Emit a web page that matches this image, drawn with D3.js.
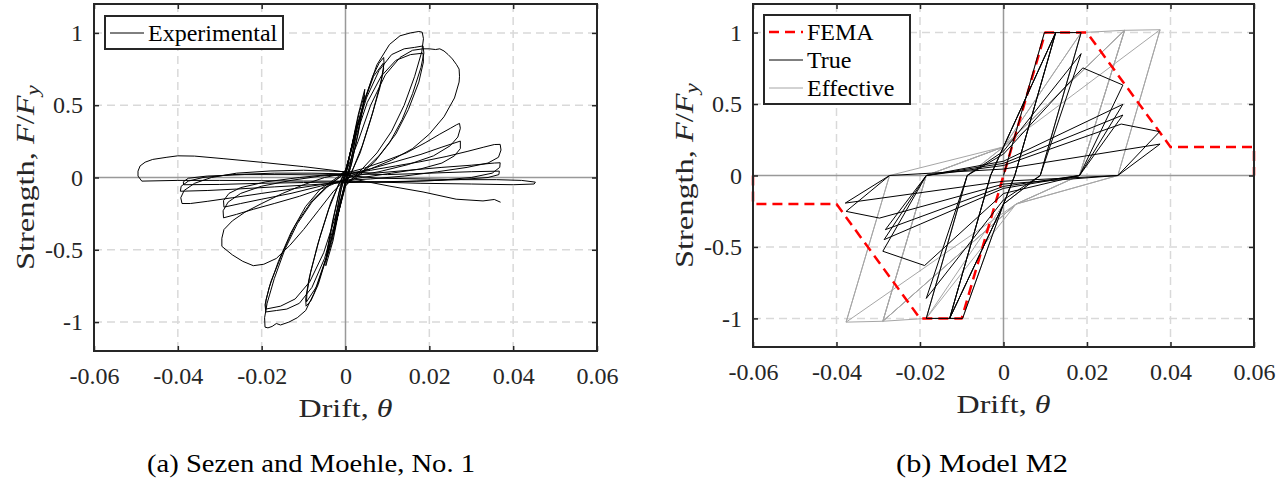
<!DOCTYPE html>
<html>
<head>
<meta charset="utf-8">
<title>Hysteresis: experiment vs model</title>
<script src="https://cdn.jsdelivr.net/npm/d3@7"></script>
<style>
  body { margin: 0; background: #fff; }
  .grid line { stroke: #d9d9d9; stroke-width: 1.5; stroke-dasharray: 8,5; }
  .zero line { stroke: #999; stroke-width: 1.5; }
  .axis line { stroke: #262626; stroke-width: 1.5; }
</style>
</head>
<body>
<svg width="1288" height="480"></svg>
<script>
// ---- data ----
var xTicks = [-0.06, -0.04, -0.02, 0, 0.02, 0.04, 0.06];
var xTickLabels = ["-0.06", "-0.04", "-0.02", "0", "0.02", "0.04", "0.06"];
var yTicks = [-1, -0.5, 0, 0.5, 1];
var yTickLabels = ["-1", "-0.5", "0", "0.5", "1"];

// drift, F/Fy (Sezen and Moehle, No. 1)
var experimental = [
  [0,0],
  [0.0012,0.18],[0.0025,0.34],[0.0022,0.25],[0.001,0.08],[0,-0.02],
  [-0.0012,-0.18],[-0.0026,-0.36],[-0.0022,-0.26],[-0.001,-0.08],[0,0.02],
  [0.0014,0.2],[0.0028,0.38],[0.0024,0.27],[0.001,0.07],[-0.0001,-0.03],
  [-0.0014,-0.2],[-0.0029,-0.39],[-0.0024,-0.28],[-0.001,-0.07],[0.0001,0.03],
  [0.0015,0.22],[0.003,0.43],[0.0046,0.61],[0.0044,0.54],[0.0032,0.34],[0.0015,0.1],[0,-0.05],
  [-0.0015,-0.22],[-0.003,-0.44],[-0.0047,-0.61],[-0.0045,-0.54],[-0.0032,-0.33],[-0.0015,-0.1],[0,0.04],
  [0.0016,0.23],[0.0033,0.45],[0.0045,0.57],[0.0042,0.49],[0.003,0.3],[0.0012,0.07],[-0.0002,-0.06],
  [-0.0016,-0.23],[-0.0033,-0.45],[-0.0046,-0.57],[-0.0043,-0.49],[-0.003,-0.29],[-0.0012,-0.06],[0.0002,0.05],
  [0.0018,0.25],[0.0042,0.5],[0.0065,0.7],[0.008,0.79],[0.0091,0.83],[0.0092,0.79],[0.0085,0.67],[0.0065,0.45],[0.004,0.22],[0.0018,0.06],[0,-0.04],
  [-0.0018,-0.26],[-0.0042,-0.52],[-0.0065,-0.74],[-0.0082,-0.85],[-0.0094,-0.89],[-0.0095,-0.84],[-0.0087,-0.7],[-0.0066,-0.46],[-0.004,-0.22],[-0.0018,-0.06],[0,0.04],
  [0.0019,0.26],[0.0044,0.52],[0.0067,0.7],[0.009,0.79],[0.0091,0.75],[0.0082,0.62],[0.006,0.4],[0.0035,0.17],[0.0015,0.04],[-0.0001,-0.05],
  [-0.002,-0.28],[-0.0045,-0.55],[-0.0068,-0.75],[-0.0093,-0.86],[-0.0092,-0.8],[-0.0083,-0.65],[-0.006,-0.4],[-0.0035,-0.17],[-0.0015,-0.04],[0.0001,0.05],
  [0.002,0.27],[0.0048,0.56],[0.0075,0.78],[0.0105,0.92],[0.013,0.98],[0.0155,1.0],[0.0175,1.01],[0.0183,1.005],[0.0186,0.96],[0.0182,0.87],[0.0165,0.7],[0.014,0.5],[0.011,0.32],[0.0075,0.17],[0.004,0.06],[0.0015,-0.01],[0,-0.06],
  [-0.002,-0.28],[-0.0048,-0.57],[-0.0075,-0.8],[-0.0095,-0.92],[-0.0115,-0.97],[-0.0135,-1.0],[-0.0155,-1.02],[-0.0165,-1.01],[-0.0175,-1.03],[-0.0185,-1.04],[-0.0192,-1.035],[-0.0193,-0.97],[-0.0187,-0.87],[-0.017,-0.7],[-0.0145,-0.5],[-0.0115,-0.32],[-0.008,-0.17],[-0.0045,-0.07],[-0.0015,0],[0,0.05],
  [0.0022,0.28],[0.005,0.55],[0.008,0.74],[0.011,0.85],[0.014,0.89],[0.0165,0.9],[0.0185,0.91],[0.0187,0.86],[0.018,0.76],[0.016,0.58],[0.0135,0.4],[0.0105,0.24],[0.007,0.11],[0.0035,0.02],[0,-0.05],
  [-0.0022,-0.28],[-0.005,-0.56],[-0.008,-0.76],[-0.011,-0.87],[-0.014,-0.91],[-0.0165,-0.92],[-0.019,-0.93],[-0.0192,-0.88],[-0.0182,-0.76],[-0.016,-0.58],[-0.013,-0.38],[-0.0095,-0.2],[-0.006,-0.08],[-0.002,0],[0,0.05],
  [0.0024,0.28],[0.0052,0.52],[0.0085,0.7],[0.012,0.81],[0.0155,0.85],[0.0185,0.86],[0.0186,0.8],[0.0175,0.66],[0.015,0.47],[0.012,0.3],[0.008,0.15],[0.004,0.04],[0,-0.04],
  [-0.0024,-0.27],[-0.0052,-0.52],[-0.0085,-0.72],[-0.012,-0.84],[-0.0155,-0.89],[-0.019,-0.91],[-0.019,-0.85],[-0.0178,-0.72],[-0.015,-0.52],[-0.012,-0.33],[-0.008,-0.16],[-0.004,-0.05],[0,0.03],
  [0.003,0.25],[0.006,0.5],[0.0095,0.71],[0.013,0.83],[0.016,0.88],[0.0185,0.89],[0.02,0.89],[0.0215,0.885],[0.0225,0.89],[0.0235,0.875],[0.0245,0.85],[0.0255,0.82],[0.0265,0.78],[0.0271,0.75],[0.0272,0.7],[0.0271,0.66],[0.026,0.55],[0.0235,0.42],[0.02,0.3],[0.016,0.2],[0.011,0.12],[0.006,0.06],[0.002,0.02],[0,-0.01],
  [-0.003,-0.1],[-0.0065,-0.23],[-0.01,-0.36],[-0.0133,-0.47],[-0.0165,-0.56],[-0.0195,-0.6],[-0.022,-0.61],[-0.0245,-0.58],[-0.027,-0.535],[-0.0295,-0.476],[-0.0295,-0.42],[-0.029,-0.36],[-0.027,-0.3],[-0.024,-0.24],[-0.02,-0.18],[-0.015,-0.11],[-0.01,-0.05],[-0.005,0],[0,0.03],
  [0.004,0.06],[0.009,0.11],[0.0145,0.17],[0.019,0.24],[0.0225,0.3],[0.025,0.34],[0.0265,0.365],[0.0272,0.374],[0.0274,0.34],[0.0268,0.28],[0.025,0.22],[0.021,0.15],[0.015,0.09],[0.008,0.04],[0.002,0.01],[0,-0.01],
  [-0.005,-0.07],[-0.011,-0.13],[-0.017,-0.18],[-0.022,-0.22],[-0.026,-0.255],[-0.0291,-0.279],[-0.0292,-0.23],[-0.028,-0.17],[-0.025,-0.11],[-0.02,-0.06],[-0.013,-0.02],[-0.006,0.01],[0,0.02],
  [0.006,0.06],[0.012,0.11],[0.018,0.16],[0.023,0.21],[0.0274,0.252],[0.0274,0.2],[0.026,0.15],[0.023,0.1],[0.018,0.06],[0.011,0.03],[0.004,0.0],[0,-0.02],
  [-0.006,-0.06],[-0.013,-0.11],[-0.02,-0.15],[-0.025,-0.18],[-0.029,-0.205],[-0.0291,-0.16],[-0.0278,-0.11],[-0.025,-0.07],[-0.019,-0.03],[-0.011,0.0],[-0.004,0.02],[0,0.02],
  [0.006,0.05],[0.012,0.08],[0.018,0.11],[0.024,0.145],[0.029,0.18],[0.033,0.21],[0.0355,0.228],[0.0369,0.229],[0.0371,0.19],[0.0365,0.14],[0.034,0.1],[0.029,0.07],[0.022,0.04],[0.014,0.01],[0.006,-0.01],[0,-0.02],
  [-0.006,-0.05],[-0.013,-0.08],[-0.02,-0.11],[-0.027,-0.14],[-0.033,-0.165],[-0.037,-0.18],[-0.039,-0.18],[-0.0393,-0.14],[-0.0385,-0.09],[-0.036,-0.04],[-0.032,0.0],[-0.026,0.03],[-0.018,0.045],[-0.01,0.05],[-0.004,0.045],[0,0.04],
  [0.007,0.03],[0.015,0.05],[0.023,0.07],[0.03,0.085],[0.0355,0.1],[0.0369,0.102],[0.0368,0.07],[0.035,0.03],[0.03,0.0],[0.022,-0.02],[0.012,-0.03],[0,-0.035],
  [-0.008,-0.05],[-0.017,-0.065],[-0.026,-0.08],[-0.033,-0.09],[-0.0394,-0.095],[-0.0392,-0.06],[-0.0375,-0.025],[-0.034,0.0],[-0.027,0.02],[-0.017,0.03],[-0.008,0.03],[0,0.025],
  [0.01,0.02],[0.02,0.03],[0.03,0.04],[0.0367,0.044],[0.0366,0.02],[0.034,0.0],[0.027,-0.015],[0.017,-0.025],[0.007,-0.03],[0,-0.03],
  [-0.01,-0.035],[-0.02,-0.04],[-0.03,-0.048],[-0.0386,-0.05],[-0.0387,-0.03],[-0.0375,-0.005],[-0.033,0.01],[-0.024,0.02],[-0.013,0.02],[0,0.015],
  [0.008,-0.005],[0.018,-0.01],[0.028,-0.015],[0.036,-0.015],[0.042,-0.02],[0.0453,-0.032],[0.045,-0.045],[0.04,-0.05],[0.03,-0.045],[0.018,-0.04],[0.006,-0.03],[0,-0.025],
  [-0.01,-0.025],[-0.02,-0.022],[-0.03,-0.02],[-0.04,-0.02],[-0.0486,-0.025],[-0.0495,0.01],[-0.0495,0.044],[-0.049,0.08],[-0.0478,0.106],[-0.046,0.125],[-0.0426,0.14],[-0.04,0.15],[-0.036,0.148],[-0.029,0.13],[-0.02,0.105],[-0.01,0.075],[-0.003,0.05],[0,0.037],
  [0.0026,-0.015],[0.0106,-0.06],[0.0185,-0.1],[0.0264,-0.15],[0.0328,-0.162],[0.0355,-0.152],[0.037,-0.171]
];

// FEMA backbone
var fema = [[-0.06,0],[-0.06,-0.2],[-0.04,-0.2],[-0.02,-1],[-0.01,-1],[0.01,1],[0.02,1],[0.04,0.2],[0.06,0.2],[0.06,0]];

// Model M2, true force
var trueForce = [
  [0,0],[0.0098,1],[0.0125,1],
  [0.0027,0],[0,-0.2],[-0.0098,-1],[-0.0129,-1],
  [-0.0031,0],[0,0.2],[0.0125,1],
  [0.0027,0],[0,-0.2],[-0.0129,-1],
  [-0.0031,0],[0,0.2],[0.0125,1],[0.0186,1],
  [0.0088,0],[0,-0.2],[-0.0129,-1],[-0.0185,-1],
  [-0.0087,0],[0,0.17],[0.0186,0.853],
  [0.0088,0],[0,-0.17],[-0.0185,-0.86],
  [-0.0087,0],[0,0.15],[0.019,0.753],[0.0286,0.633],
  [0.0182,0],[0,-0.126],[-0.0189,-0.63],[-0.0289,-0.53],
  [-0.0185,0],[0,0.1],[0.0286,0.498],
  [0.0182,0],[0,-0.09],[-0.0286,-0.449],
  [-0.0185,0],[0,0.085],[0.0286,0.423],
  [0.0182,0],[0,-0.076],[-0.0283,-0.379],
  [-0.0185,0],[0,0.07],[0.0282,0.36],[0.0374,0.307],
  [0.0274,0],[0,-0.06],[-0.0297,-0.298],[-0.0377,-0.251],
  [-0.0273,0],[0,0.045],[0.0375,0.22],
  [0.0274,0],[0,-0.04],[-0.0379,-0.193],
  [-0.0273,0]
];

// Model M2, effective force
var effectiveForce = [
  [0,0],[0.0098,1],[0.0125,1],
  [0.0027,0],[0,-0.2],[-0.0098,-1],[-0.0129,-1],
  [-0.0031,0],[0,0.2],[0.0125,1],
  [0.0027,0],[0,-0.2],[-0.0129,-1],
  [-0.0031,0],[0,0.2],[0.0125,1],[0.0186,1],
  [0.0088,0],[0,-0.2],[-0.0129,-1],[-0.0185,-1],
  [-0.0087,0],[0,0.2],[0.0186,1],
  [0.0088,0],[0,-0.2],[-0.0185,-1],
  [-0.0087,0],[0,0.2],[0.0186,1],[0.029,1.016],
  [0.0182,0],[0.003,-0.2],[-0.0185,-1],[-0.0289,-1.02],
  [-0.0185,0],[0,0.2],[0.029,1.016],
  [0.0182,0],[0.003,-0.2],[-0.0289,-1.02],
  [-0.0185,0],[0,0.2],[0.029,1.016],
  [0.0182,0],[0.003,-0.2],[-0.0289,-1.02],
  [-0.0185,0],[0,0.2],[0.029,1.016],[0.0375,1.02],
  [0.0274,0],[0.003,-0.2],[-0.0289,-1.02],[-0.0377,-1.026],
  [-0.0273,0],[0,0.2],[0.0375,1.02],
  [0.0274,0],[0.003,-0.2],[-0.0377,-1.026],
  [-0.0273,0]
];

var captions = ["(a) Sezen and Moehle, No. 1", "(b) Model M2"];

// ---- drawing ----
var FONT = "'Liberation Serif'";
var INK = "#262626";
var svg = d3.select("svg").attr("font-family", FONT);

function stretchText(sel, width) {
  var w = sel.node().getComputedTextLength();
  return width / w;
}

function drawPanel(p) {
  var x = d3.scaleLinear().domain([-0.06, 0.06]).range([p.left, p.right]);
  var y = d3.scaleLinear().domain([-1.2, 1.2]).range([p.bottom, p.top]);
  var g = svg.append("g");

  var grid = g.append("g").attr("class", "grid");
  grid.selectAll(".gx").data(xTicks.filter(function(d) { return d !== 0 && Math.abs(d) < 0.059; }))
    .enter().append("line")
    .attr("x1", x).attr("x2", x).attr("y1", p.top).attr("y2", p.bottom);
  grid.selectAll(".gy").data(yTicks.filter(function(d) { return d !== 0; }))
    .enter().append("line")
    .attr("y1", y).attr("y2", y).attr("x1", p.left).attr("x2", p.right);

  var zero = g.append("g").attr("class", "zero");
  zero.append("line").attr("x1", x(0)).attr("x2", x(0)).attr("y1", p.top).attr("y2", p.bottom);
  zero.append("line").attr("y1", y(0)).attr("y2", y(0)).attr("x1", p.left).attr("x2", p.right);

  var line = d3.line().x(function(d) { return x(d[0]); }).y(function(d) { return y(d[1]); });
  p.series.forEach(function(s) {
    g.append("path")
      .attr("d", line(s.data))
      .attr("fill", "none")
      .attr("stroke", s.color)
      .attr("stroke-width", s.width)
      .attr("stroke-dasharray", s.dash || null)
      .attr("stroke-linejoin", "round");
  });

  // axes, ticks pointing inward
  var bottom = d3.axisBottom(x).tickValues(xTicks).tickSize(-5).tickSizeOuter(0).tickPadding(16)
    .tickFormat(function(d, i) { return xTickLabels[i]; });
  var left = d3.axisLeft(y).tickValues(yTicks).tickSize(-5).tickSizeOuter(0).tickPadding(11)
    .tickFormat(function(d, i) { return yTickLabels[i]; });
  var top = d3.axisTop(x).tickValues(xTicks).tickSize(-5).tickSizeOuter(0).tickFormat("");
  var right = d3.axisRight(y).tickValues(yTicks).tickSize(-5).tickSizeOuter(0).tickFormat("");

  [[bottom, "translate(0," + p.bottom + ")"], [left, "translate(" + p.left + ",0)"],
   [top, "translate(0," + p.top + ")"], [right, "translate(" + p.right + ",0)"]].forEach(function(a) {
    var ax = g.append("g").attr("class", "axis").attr("transform", a[1]).call(a[0]);
    ax.attr("font-family", FONT).attr("font-size", 24);
    ax.select(".domain").remove();
    ax.selectAll("text").attr("fill", INK);
  });

  g.append("rect")
    .attr("x", p.left).attr("y", p.top)
    .attr("width", p.right - p.left).attr("height", p.bottom - p.top)
    .attr("fill", "none").attr("stroke", INK).attr("stroke-width", 2);

  // x label
  var xl = g.append("text").attr("font-family", FONT).attr("fill", INK)
    .attr("text-anchor", "middle").attr("font-size", 26);
  xl.append("tspan").text("Drift, ");
  xl.append("tspan").attr("font-style", "italic").text("θ");
  xl.attr("transform", "translate(" + x(0) + "," + (p.bottom + 66) + ") scale(" + stretchText(xl, 94) + ",1)");

  // y label
  var yl = g.append("text").attr("font-family", FONT).attr("fill", INK)
    .attr("text-anchor", "middle").attr("font-size", 25).attr("dy", "0.35em");
  yl.append("tspan").text("Strength, ");
  yl.append("tspan").attr("font-style", "italic").text("F");
  yl.append("tspan").text("/");
  yl.append("tspan").attr("font-style", "italic").text("F");
  yl.append("tspan").attr("font-style", "italic").attr("font-size", 18).attr("dy", 5).text("y");
  yl.attr("transform", "translate(" + (p.left - 69) + "," + y(0) + ") rotate(-90) scale(" + stretchText(yl, 185) + ",1)");

  // caption
  var cap = g.append("text").attr("font-family", FONT).attr("fill", "#000")
    .attr("text-anchor", "middle").attr("font-size", 25).text(p.caption);
  cap.attr("transform", "translate(" + p.capX + ",472) scale(" + stretchText(cap, p.capW) + ",1)");

  // legend
  var lg = g.append("g");
  lg.append("rect").attr("x", p.legend.x).attr("y", p.legend.y)
    .attr("width", p.legend.w).attr("height", p.legend.h)
    .attr("fill", "#fff").attr("stroke", INK).attr("stroke-width", 2);
  p.legend.items.forEach(function(it, i) {
    var ly = p.legend.y + 17 + i * 28;
    lg.append("line").attr("x1", p.legend.x + 5).attr("x2", p.legend.x + 39)
      .attr("y1", ly).attr("y2", ly)
      .attr("stroke", it.color).attr("stroke-width", it.width).attr("stroke-dasharray", it.dash || null);
    lg.append("text").attr("font-family", FONT).attr("fill", "#000")
      .attr("x", p.legend.x + 43).attr("y", ly + 8).attr("font-size", 24).text(it.name);
  });
}

drawPanel({
  left: 94, right: 597, top: 4, bottom: 351,
  caption: captions[0], capX: 311, capW: 328,
  series: [{ data: experimental, color: "#000", width: 1 }],
  legend: { x: 105, y: 16, w: 178, h: 33,
    items: [{ name: "Experimental", color: "#000", width: 1 }] }
});

drawPanel({
  left: 753, right: 1254, top: 4, bottom: 347,
  caption: captions[1], capX: 982, capW: 172,
  series: [
    { data: effectiveForce, color: "#a6a6a6", width: 1 },
    { data: fema, color: "#ff0000", width: 2.5, dash: "10,6" },
    { data: trueForce, color: "#000", width: 1 }
  ],
  legend: { x: 764, y: 15, w: 146, h: 89,
    items: [
      { name: "FEMA", color: "#ff0000", width: 2.5, dash: "10,6" },
      { name: "True", color: "#000", width: 1 },
      { name: "Effective", color: "#a6a6a6", width: 1 }
    ] }
});
</script>
</body>
</html>
